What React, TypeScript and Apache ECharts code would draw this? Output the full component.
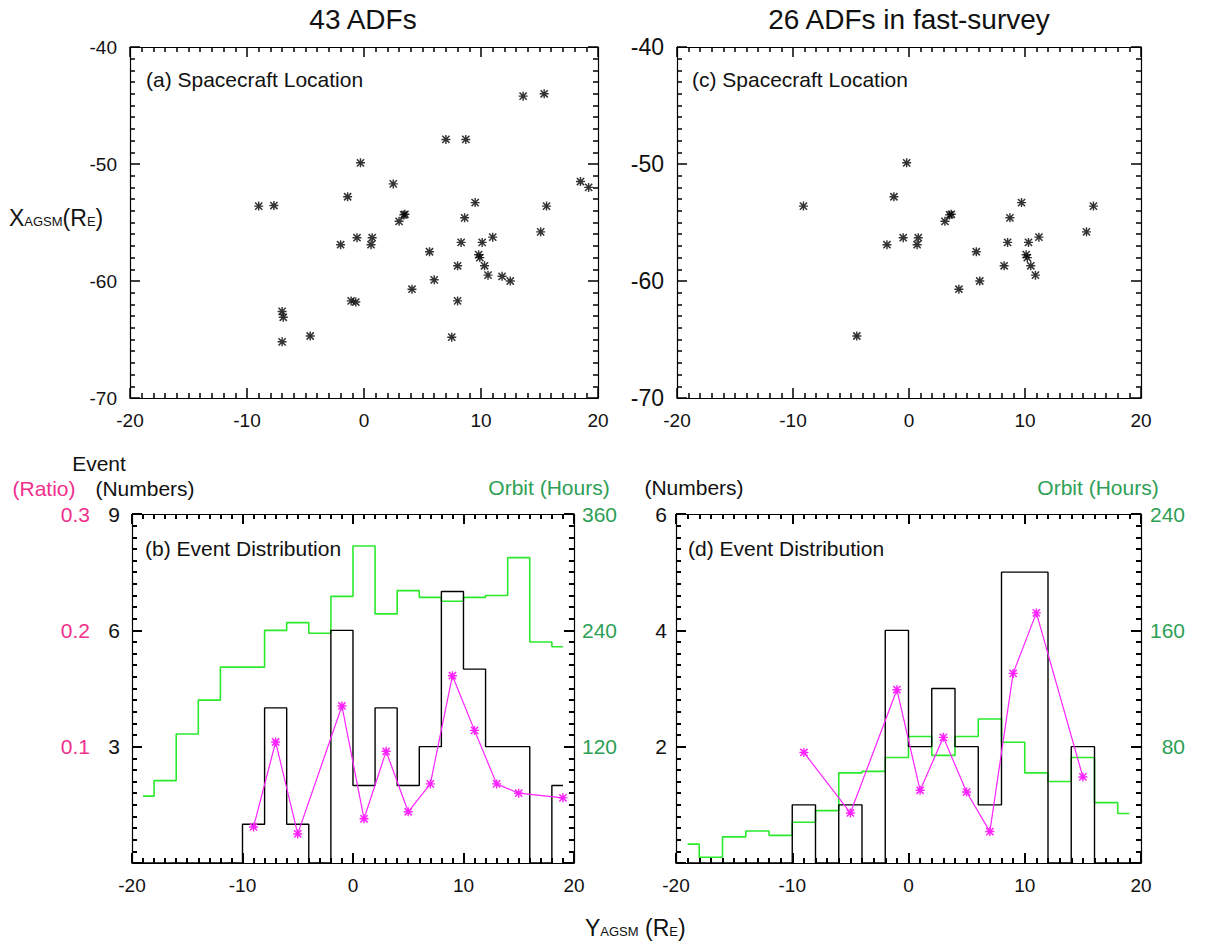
import React, { useEffect, useRef } from "react";
import * as echarts from "echarts";

// Spacecraft positions (GSM, Earth radii) for all 43 ADF events
const allLocY = [13.6, 15.4, 7.0, 8.7, -0.3, 2.5, 18.5, 19.2, -1.4, -9.0, -7.7, 9.5, 15.6, 8.6, 3.5, 3.4, 3.0, 15.1, -0.6, 0.7, 0.6, -2.0, 8.3, 10.1, 11.0, 5.6, 9.8, 9.9, 10.3, 8.0, 10.6, 11.8, 12.5, 6.0, 4.1, 8.0, -1.1, -0.7, -7.0, -6.9, -7.0, -4.6, 7.5];
const allLocX = [-44.2, -44.0, -47.9, -47.9, -49.9, -51.7, -51.5, -52.0, -52.8, -53.6, -53.55, -53.3, -53.6, -54.6, -54.3, -54.35, -54.9, -55.8, -56.3, -56.3, -56.9, -56.9, -56.7, -56.7, -56.25, -57.5, -57.75, -58.0, -58.7, -58.7, -59.5, -59.6, -60.0, -59.9, -60.7, -61.7, -61.7, -61.8, -62.6, -63.1, -65.2, -64.7, -64.8];

// Spacecraft positions for the 26 fast-survey ADF events
const fsLocY = [-0.2, -1.3, -9.1, 9.7, 15.9, 8.7, 3.65, 3.5, 3.1, 15.3, -0.5, 0.8, 0.7, -1.9, 8.5, 10.3, 11.2, 5.8, 10.1, 10.2, 10.5, 8.2, 10.9, 6.1, 4.3, -4.5];
const fsLocX = [-49.9, -52.8, -53.6, -53.3, -53.6, -54.6, -54.3, -54.35, -54.9, -55.8, -56.3, -56.3, -56.9, -56.9, -56.7, -56.7, -56.25, -57.5, -57.75, -58.0, -58.7, -58.7, -59.5, -60.0, -60.7, -64.7];

// Histogram bin centres along Y_AGSM (2 RE bins)
const binCenters = [-19, -17, -15, -13, -11, -9, -7, -5, -3, -1, 1, 3, 5, 7, 9, 11, 13, 15, 17, 19];

// Panel (b): all events
const allEvents = [0, 0, 0, 0, 0, 1, 4, 1, 0, 6, 2, 4, 2, 3, 7, 5, 3, 3, 0, 2];
const allOrbitHours = [69, 85, 133, 168, 202, 202, 240, 248, 237, 275, 327, 257, 281, 274, 270, 274, 276, 315, 228, 223];
const allRatio = [null, null, null, null, null, 0.031, 0.104, 0.025, null, 0.135, 0.038, 0.096, 0.044, 0.068, 0.161, 0.114, 0.068, 0.060, null, 0.056];

// Panel (d): fast-survey events
const fsEvents = [0, 0, 0, 0, 0, 1, 0, 1, 0, 4, 2, 3, 2, 1, 5, 5, 0, 2, 0, 0];
const fsOrbitHours = [13, 4, 18, 22, 19, 28, 36, 62, 63, 72.5, 87, 74, 87, 99, 83, 62, 56, 72.5, 41.5, 34];
const fsRatio = [null, null, null, null, null, 0.095, null, 0.043, null, 0.149, 0.0625, 0.108, 0.061, 0.027, 0.163, 0.215, null, 0.074, null, null];

const FONT = '"Liberation Sans", Arial, Helvetica, sans-serif';
const INK = "#111";
const PINK = "#f0308c";
const GREEN_TEXT = "#2ea055";
const GREEN_LINE = "#2bea2b";
const MAGENTA = "#ff22ff";

const ASTERISK =
  "path://M4.2 0H5.8V10H4.2Z M0 4.2H10V5.8H0Z M0.4 1.6L1.6 0.4L9.6 8.4L8.4 9.6Z M8.4 0.4L9.6 1.6L1.6 9.6L0.4 8.4Z";

const pairs = (xs: number[], ys: (number | null)[]) =>
  xs.map((x, i) => [x, ys[i]]).filter((p) => p[1] !== null);

const ink = (w: number) => ({ color: "#000", width: w });

function boxAxis(extra: any, tickWidth = 1.5) {
  return {
    type: "value",
    gridIndex: 0,
    axisLine: { show: true, onZero: false, lineStyle: ink(1.2) },
    axisTick: { show: true, inside: true, length: 10, lineStyle: ink(tickWidth) },
    minorTick: { show: true, splitNumber: 10, length: 5, lineStyle: ink(tickWidth) },
    splitLine: { show: false },
    axisLabel: { show: false },
    ...extra,
  };
}

const labelStyle = (color: string, margin: number, fontSize: number, extra: any = {}) => ({
  show: true,
  color,
  fontSize,
  fontFamily: FONT,
  margin,
  ...extra,
});

const fmt = (digits: number) => (v: number) => (digits > 0 ? v.toFixed(digits) : String(Math.round(v)));

// invisible value axis that scales the ratio curve
const ratioAxis = (extra: any) => ({
  type: "value",
  gridIndex: 0,
  min: 0,
  max: 0.3,
  interval: 0.1,
  axisLine: { show: false, onZero: false },
  axisTick: { show: false },
  minorTick: { show: false },
  splitLine: { show: false },
  axisLabel: { show: false },
  ...extra,
});

function text(x: number, y: number, str: string, opts: any = {}) {
  const align = opts.align || "center";
  return {
    type: "text",
    x,
    y,
    silent: true,
    style: {
      text: str,
      fill: opts.fill || INK,
      fontSize: opts.fontSize || 21,
      fontFamily: FONT,
      align,
      textAlign: align,
      verticalAlign: "middle",
      textVerticalAlign: "middle",
      ...(opts.rich ? { rich: opts.rich } : {}),
    },
  };
}

const subRich = {
  a: { fontSize: 23, fontFamily: FONT, fill: INK, color: INK, verticalAlign: "bottom", lineHeight: 26 },
  b: { fontSize: 13, fontFamily: FONT, fill: INK, color: INK, verticalAlign: "bottom", lineHeight: 26, padding: [0, 0, 1, 0] },
};

const scatter = (ys: number[], xs: number[]) => ({
  type: "scatter",
  symbol: ASTERISK,
  symbolSize: 9,
  itemStyle: { color: "#000" },
  data: ys.map((y, i) => [y, xs[i]]),
});

const step = (yi: number, vals: number[], color: string, width: number) => ({
  type: "line",
  xAxisIndex: 0,
  yAxisIndex: yi,
  step: "middle",
  showSymbol: false,
  symbol: "none",
  lineStyle: { color, width },
  data: pairs(binCenters, vals),
});

const ratioLine = (yi: number, vals: (number | null)[]) => ({
  type: "line",
  xAxisIndex: 0,
  yAxisIndex: yi,
  symbol: ASTERISK,
  symbolSize: 9,
  showSymbol: true,
  itemStyle: { color: MAGENTA },
  lineStyle: { color: MAGENTA, width: 1.2 },
  data: pairs(binCenters, vals),
});

const xPair = (tw: number) => [
  boxAxis({ position: "bottom", min: -20, max: 20, interval: 10, axisLabel: labelStyle(INK, 13, 19) }, tw),
  boxAxis({ position: "top", min: -20, max: 20, interval: 10 }, tw),
];

// (a) and (c): spacecraft locations
function locationOption(grid: any, ys: number[], xs: number[], yFont: number) {
  return {
    animation: false,
    grid: [grid],
    xAxis: xPair(1.5),
    yAxis: [
      boxAxis({ position: "left", min: -70, max: -40, interval: 10, axisLabel: labelStyle(INK, 13, yFont) }),
      boxAxis({ position: "right", min: -70, max: -40, interval: 10 }),
    ],
    series: [scatter(ys, xs)],
  };
}

const page = {
  animation: false,
  graphic: [
    text(363, 19, "43 ADFs", { fontSize: 28 }),
    text(909, 19, "26 ADFs in fast-survey", { fontSize: 28 }),
    text(146, 79, "(a) Spacecraft Location", { align: "left" }),
    text(692, 79, "(c) Spacecraft Location", { align: "left" }),
    text(145, 548, "(b) Event Distribution", { align: "left" }),
    text(688, 548, "(d) Event Distribution", { align: "left" }),
    text(9, 216, "{a|X}{b|AGSM}{a|(R}{b|E}{a|)}", { align: "left", rich: subRich }),
    text(585, 926, "{a|Y}{b|AGSM}{a| (R}{b|E}{a|)}", { align: "left", rich: subRich }),
    text(99, 463, "Event"),
    text(44, 488, "(Ratio)", { fill: PINK }),
    text(145, 488, "(Numbers)"),
    text(549, 487, "Orbit (Hours)", { fill: GREEN_TEXT }),
    text(694, 487, "(Numbers)"),
    text(1098, 487, "Orbit (Hours)", { fill: GREEN_TEXT }),
  ],
};

const optionA = locationOption({ left: 130, top: 47, width: 468, height: 351 }, allLocY, allLocX, 19);
const optionC = locationOption({ left: 677, top: 47, width: 464, height: 351 }, fsLocY, fsLocX, 23);

// (b): event numbers, orbit hours and ratio, all events
const optionB = {
  animation: false,
  grid: [{ left: 132, top: 514, width: 465, height: 349 }],
  xAxis: xPair(2),
  yAxis: [
    boxAxis({ position: "left", min: 0, max: 9, interval: 3, axisLabel: labelStyle(INK, 12, 21, { showMinLabel: false, formatter: fmt(0) }) }, 2),
    boxAxis({ position: "right", min: 0, max: 360, interval: 120, axisLabel: labelStyle(GREEN_TEXT, 8, 21, { showMinLabel: false, formatter: fmt(0) }) }, 2),
    ratioAxis({ position: "left", offset: 30, axisLabel: labelStyle(PINK, 12, 21, { showMinLabel: false, formatter: fmt(1) }) }),
  ],
  series: [step(1, allOrbitHours, GREEN_LINE, 1.6), step(0, allEvents, "#000", 1.4), ratioLine(2, allRatio)],
};

// (d): the same for the fast-survey events
const optionD = {
  animation: false,
  grid: [{ left: 676, top: 514, width: 465, height: 349 }],
  xAxis: xPair(2),
  yAxis: [
    boxAxis({ position: "left", min: 0, max: 6, interval: 2, axisLabel: labelStyle(INK, 9, 21, { showMinLabel: false, formatter: fmt(0) }) }, 2),
    boxAxis({ position: "right", min: 0, max: 240, interval: 80, axisLabel: labelStyle(GREEN_TEXT, 44, 21, { align: "right", showMinLabel: false, formatter: fmt(0) }) }, 2),
    ratioAxis({ position: "left", offset: 60 }),
  ],
  series: [step(1, fsOrbitHours, GREEN_LINE, 1.6), step(0, fsEvents, "#000", 1.4), ratioLine(2, fsRatio)],
};

function Layer({ option, left, top, width, height }: { option: any; left: number; top: number; width: number; height: number }) {
  const ref = useRef<HTMLDivElement>(null);
  useEffect(() => {
    if (!ref.current) return;
    const chart = echarts.init(ref.current, null, { renderer: "svg" });
    // grids are given in page coordinates; shift them into this layer
    const opt = { ...option };
    if (opt.grid) {
      opt.grid = opt.grid.map((g: any) => ({ ...g, left: g.left - left, top: g.top - top }));
    }
    if (opt.graphic) {
      opt.graphic = opt.graphic.map((e: any) => ({ ...e, x: e.x - left, y: e.y - top }));
    }
    chart.setOption(opt);
    return () => chart.dispose();
  }, [option, left, top, width, height]);
  return <div ref={ref} style={{ position: "absolute", left, top, width, height }} />;
}

export default function App() {
  return (
    <div style={{ position: "fixed", left: 0, top: 0, width: 1217, height: 944, background: "#fff" }}>
      <Layer option={page} left={0} top={0} width={1217} height={944} />
      <Layer option={optionA} left={60} top={30} width={560} height={420} />
      <Layer option={optionC} left={620} top={30} width={560} height={420} />
      <Layer option={optionB} left={40} top={500} width={580} height={405} />
      <Layer option={optionD} left={620} top={500} width={590} height={405} />
    </div>
  );
}
